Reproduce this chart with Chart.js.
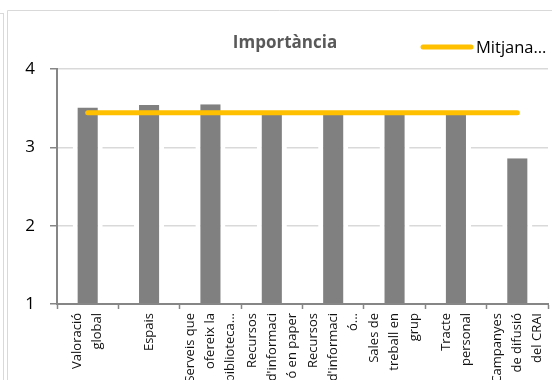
<!DOCTYPE html>
<html>
<head>
<meta charset="utf-8">
<script src="https://cdn.jsdelivr.net/npm/chart.js@4"></script>
<style>
  html, body { margin: 0; padding: 0; background: #fff; }
  #wrap { width: 552px; height: 380px; position: relative; }
</style>
</head>
<body>
<div id="wrap"><canvas id="chart" width="552" height="380"></canvas></div>
<script>
// ── Data ──
const categories = [
    ['Valoració', 'global'],
    ['Espais'],
    ['Serveis que', 'ofereix la', 'biblioteca...'],
    ['Recursos', "d'informaci", 'ó en paper'],
    ['Recursos', "d'informaci", 'ó...'],
    ['Sales de', 'treball en', 'grup'],
    ['Tracte', 'personal'],
    ['Campanyes', 'de difusió', 'del CRAI']
];
const importancia = [3.51, 3.54, 3.55, 3.45, 3.43, 3.44, 3.45, 2.86];
const mitjana = [3.44, 3.44, 3.44, 3.44, 3.44, 3.44, 3.44, 3.44];
const yTicks = [1, 2, 3, 4];

const FONT = "'Open Sans', 'Liberation Sans', sans-serif";
const GRID = '#d9d9d9';
const AXIS = '#868686';

// ── Title, legend, frame and rotated category labels ──
const decorPlugin = {
    id: 'decor',
    beforeDraw(chart) {
        const ctx = chart.ctx;
        ctx.save();
        ctx.strokeStyle = GRID;
        ctx.lineWidth = 1;
        ctx.beginPath();
        // outer sheet edge
        ctx.moveTo(0, 13.5); ctx.lineTo(4, 13.5);
        ctx.moveTo(3.5, 13.5); ctx.lineTo(3.5, 380);
        // chart border
        ctx.moveTo(7.5, 10.5); ctx.lineTo(552, 10.5);
        ctx.moveTo(7.5, 10.5); ctx.lineTo(7.5, 380);
        ctx.stroke();
        ctx.restore();
    },
    afterDraw(chart) {
        const ctx = chart.ctx;
        ctx.save();
        ctx.fillStyle = '#595959';
        ctx.font = 'bold 17px ' + FONT;
        ctx.textAlign = 'center';
        ctx.textBaseline = 'middle';
        ctx.fillText('Importància', 285, 43);

        const ds = chart.data.datasets[0];
        ctx.strokeStyle = ds.borderColor;
        ctx.lineWidth = 5;
        ctx.lineCap = 'round';
        ctx.beginPath();
        ctx.moveTo(423, 47); ctx.lineTo(471, 47);
        ctx.stroke();
        ctx.fillStyle = '#000';
        ctx.font = '16.5px ' + FONT;
        ctx.textAlign = 'left';
        ctx.fillText(ds.label, 476, 48);

        // category labels, rotated and centred on each tick
        const xs = chart.scales.x;
        const top = xs.top + 9;
        const lineH = 20;
        ctx.fillStyle = '#111';
        ctx.font = '13px ' + FONT;
        ctx.textAlign = 'right';
        ctx.textBaseline = 'middle';
        chart.data.labels.forEach((lines, i) => {
            const x = xs.getPixelForTick(i);
            ctx.save();
            ctx.translate(x, top);
            ctx.rotate(-Math.PI / 2);
            lines.forEach((line, j) => {
                ctx.fillText(line, 0, (j - (lines.length - 1) / 2) * lineH);
            });
            ctx.restore();
        });
        ctx.restore();
    }
};

new Chart(document.getElementById('chart'), {
    type: 'bar',
    data: {
        labels: categories,
        datasets: [
            {
                type: 'line',
                label: 'Mitjana…',
                data: mitjana,
                borderColor: '#FFC000',
                borderWidth: 5,
                borderCapStyle: 'round',
                pointRadius: 0,
                fill: false,
                order: 0
            },
            {
                label: 'Importància',
                data: importancia,
                backgroundColor: '#808080',
                borderColor: '#ffffff',
                borderWidth: { left: 5, right: 5, top: 0, bottom: 2 },
                borderSkipped: false,
                barPercentage: 0.49,
                categoryPercentage: 1,
                order: 1
            }
        ]
    },
    options: {
        responsive: false,
        animation: false,
        events: [],
        layout: { padding: { top: 69, right: 4, bottom: 0, left: 0 } },
        plugins: {
            legend: { display: false },
            title: { display: false },
            tooltip: { enabled: false }
        },
        scales: {
            x: {
                offset: true,
                afterFit(scale) { scale.height = 76; },
                grid: {
                    offset: true,
                    z: 1,
                    drawOnChartArea: false,
                    drawTicks: true,
                    tickLength: 5,
                    tickColor: AXIS,
                    tickWidth: 1.5
                },
                border: { color: AXIS, width: 2, z: 1 },
                ticks: { display: false, autoSkip: false }
            },
            y: {
                min: yTicks[0],
                max: yTicks[yTicks.length - 1],
                afterFit(scale) { scale.width = 57; },
                afterBuildTicks(scale) { scale.ticks = yTicks.map(v => ({ value: v })); },
                grid: {
                    color: GRID,
                    lineWidth: 1.5,
                    drawTicks: true,
                    tickLength: 7,
                    tickColor: AXIS,
                    tickWidth: 1.5
                },
                border: { color: AXIS, width: 2 },
                ticks: {
                    padding: 15,
                    color: '#000',
                    font: { family: FONT, size: 17 }
                }
            }
        }
    },
    plugins: [decorPlugin]
});
</script>
</body>
</html>
